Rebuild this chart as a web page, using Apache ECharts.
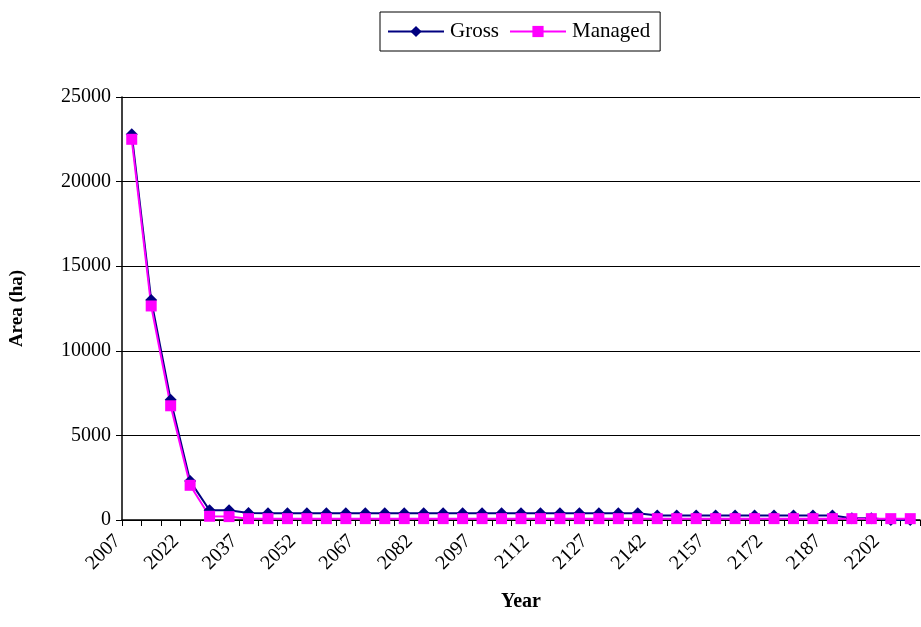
<!DOCTYPE html>
<html>
<head>
<meta charset="utf-8">
<script src="https://cdn.jsdelivr.net/npm/echarts@6/dist/echarts.min.js"></script>
<style>
  html, body { margin: 0; padding: 0; background: #fff; }
  #chart { width: 921px; height: 627px; }
</style>
</head>
<body>
<div id="chart"></div>
<script>
  var years = ['2007', '2012', '2017', '2022', '2027', '2032', '2037', '2042', '2047', '2052',
    '2057', '2062', '2067', '2072', '2077', '2082', '2087', '2092', '2097', '2102',
    '2107', '2112', '2117', '2122', '2127', '2132', '2137', '2142', '2147', '2152',
    '2157', '2162', '2167', '2172', '2177', '2182', '2187', '2192', '2197', '2202', '2207'];

  var gross = [22800, 13000, 7100, 2300, 580, 570, 420, 400, 400, 400,
    400, 400, 400, 400, 400, 400, 400, 400, 400, 400,
    400, 400, 400, 400, 400, 400, 400, 270, 270, 270,
    270, 270, 270, 270, 270, 270, 270, 100, 100, 0, 0];

  var managed = [22500, 12650, 6750, 2050, 220, 200, 80, 80, 80, 80,
    80, 80, 80, 80, 80, 80, 80, 80, 80, 80,
    80, 80, 80, 80, 80, 80, 80, 80, 80, 80,
    80, 80, 80, 80, 80, 80, 80, 80, 80, 80, 80];

  var font = 'Liberation Serif, Times New Roman, serif';

  var chart = echarts.init(document.getElementById('chart'));
  chart.setOption({
    backgroundColor: '#fff',
    animation: false,
    legend: {
      left: 380,
      top: 12,
      padding: [9, 10, 9, 7],
      itemGap: 10,
      itemWidth: 56,
      itemHeight: 14,
      borderColor: '#000',
      borderWidth: 1,
      textStyle: { fontFamily: font, fontSize: 21, color: '#000', padding: [0, 0, 0, 1] },
      data: ['Gross', 'Managed']
    },
    grid: { left: 119, right: 1, top: 97, bottom: 107, containLabel: false },
    xAxis: {
      type: 'category',
      data: years,
      boundaryGap: true,
      name: 'Year',
      nameLocation: 'middle',
      nameGap: 72,
      nameTextStyle: { fontFamily: font, fontSize: 20, fontWeight: 'bold', color: '#000' },
      axisLine: { lineStyle: { color: '#000', width: 1.5 } },
      axisTick: { show: true, interval: 0, length: 6, inside: false, lineStyle: { color: '#000' } },
      axisLabel: {
        interval: 2, rotate: 45, margin: 4, padding: [0, 20, 0, 0],
        fontFamily: font, fontSize: 20, color: '#000'
      },
      splitLine: { show: false }
    },
    yAxis: {
      type: 'value',
      min: 0,
      max: 25000,
      interval: 5000,
      name: 'Area (ha)',
      nameLocation: 'middle',
      nameGap: 95,
      nameTextStyle: { fontFamily: font, fontSize: 19, fontWeight: 'bold', color: '#000' },
      axisLine: { show: true, lineStyle: { color: '#000', width: 1.5 } },
      axisTick: { show: true, length: 6, lineStyle: { color: '#000' } },
      axisLabel: {
        margin: 11, fontFamily: font, fontSize: 20, color: '#000',
        formatter: function(v) { return String(v); }
      },
      splitLine: { show: true, lineStyle: { color: '#000', width: 1 } }
    },
    series: [
      {
        name: 'Gross',
        type: 'line',
        data: gross,
        symbol: 'diamond',
        symbolSize: 12,
        showAllSymbol: true,
        color: '#000080',
        lineStyle: { color: '#000080', width: 2 },
        itemStyle: { color: '#000080' }
      },
      {
        name: 'Managed',
        type: 'line',
        data: managed,
        symbol: 'rect',
        symbolSize: 11,
        showAllSymbol: true,
        color: '#FF00FF',
        lineStyle: { color: '#FF00FF', width: 2 },
        itemStyle: { color: '#FF00FF' }
      }
    ]
  });
</script>
</body>
</html>
